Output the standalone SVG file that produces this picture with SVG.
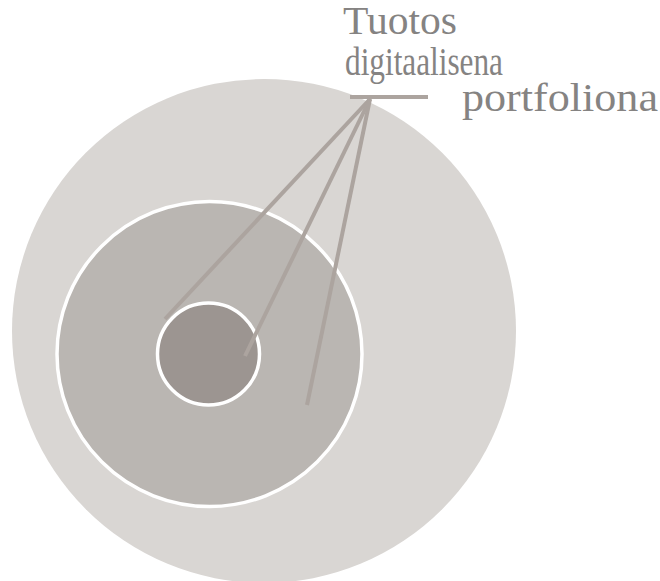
<svg xmlns="http://www.w3.org/2000/svg" width="660" height="581" viewBox="0 0 660 581">
<style>
.lbl{font-family:"Liberation Serif",serif;font-size:39px;fill:#858382}
.conn{stroke:#aca49f;stroke-width:4;fill:none}
.ring{stroke:#ffffff;stroke-width:3.5}
</style>
<rect width="660" height="581" fill="#ffffff"/>
<g id="outer"><circle cx="264" cy="331" r="252" fill="#d9d6d3"/></g>
<g id="middle"><circle class="ring" cx="209.5" cy="354" r="152.5" fill="#bab6b2"/></g>
<g id="inner"><circle class="ring" cx="208.5" cy="354" r="51" fill="#9c9591"/></g>
<g id="connectors">
<line class="conn" x1="350" y1="97" x2="428" y2="97"/>
<line class="conn" x1="370" y1="99" x2="165" y2="319"/>
<line class="conn" x1="370" y1="99" x2="245" y2="356"/>
<line class="conn" x1="370" y1="99" x2="307" y2="405"/>
</g>
<g id="label">
<text class="lbl" x="343" y="34" textLength="114" lengthAdjust="spacingAndGlyphs">Tuotos</text>
<text class="lbl" x="345" y="75" textLength="158" lengthAdjust="spacingAndGlyphs">digitaalisena</text>
<text class="lbl" x="462" y="111" textLength="196" lengthAdjust="spacingAndGlyphs">portfoliona</text>
</g>
</svg>
